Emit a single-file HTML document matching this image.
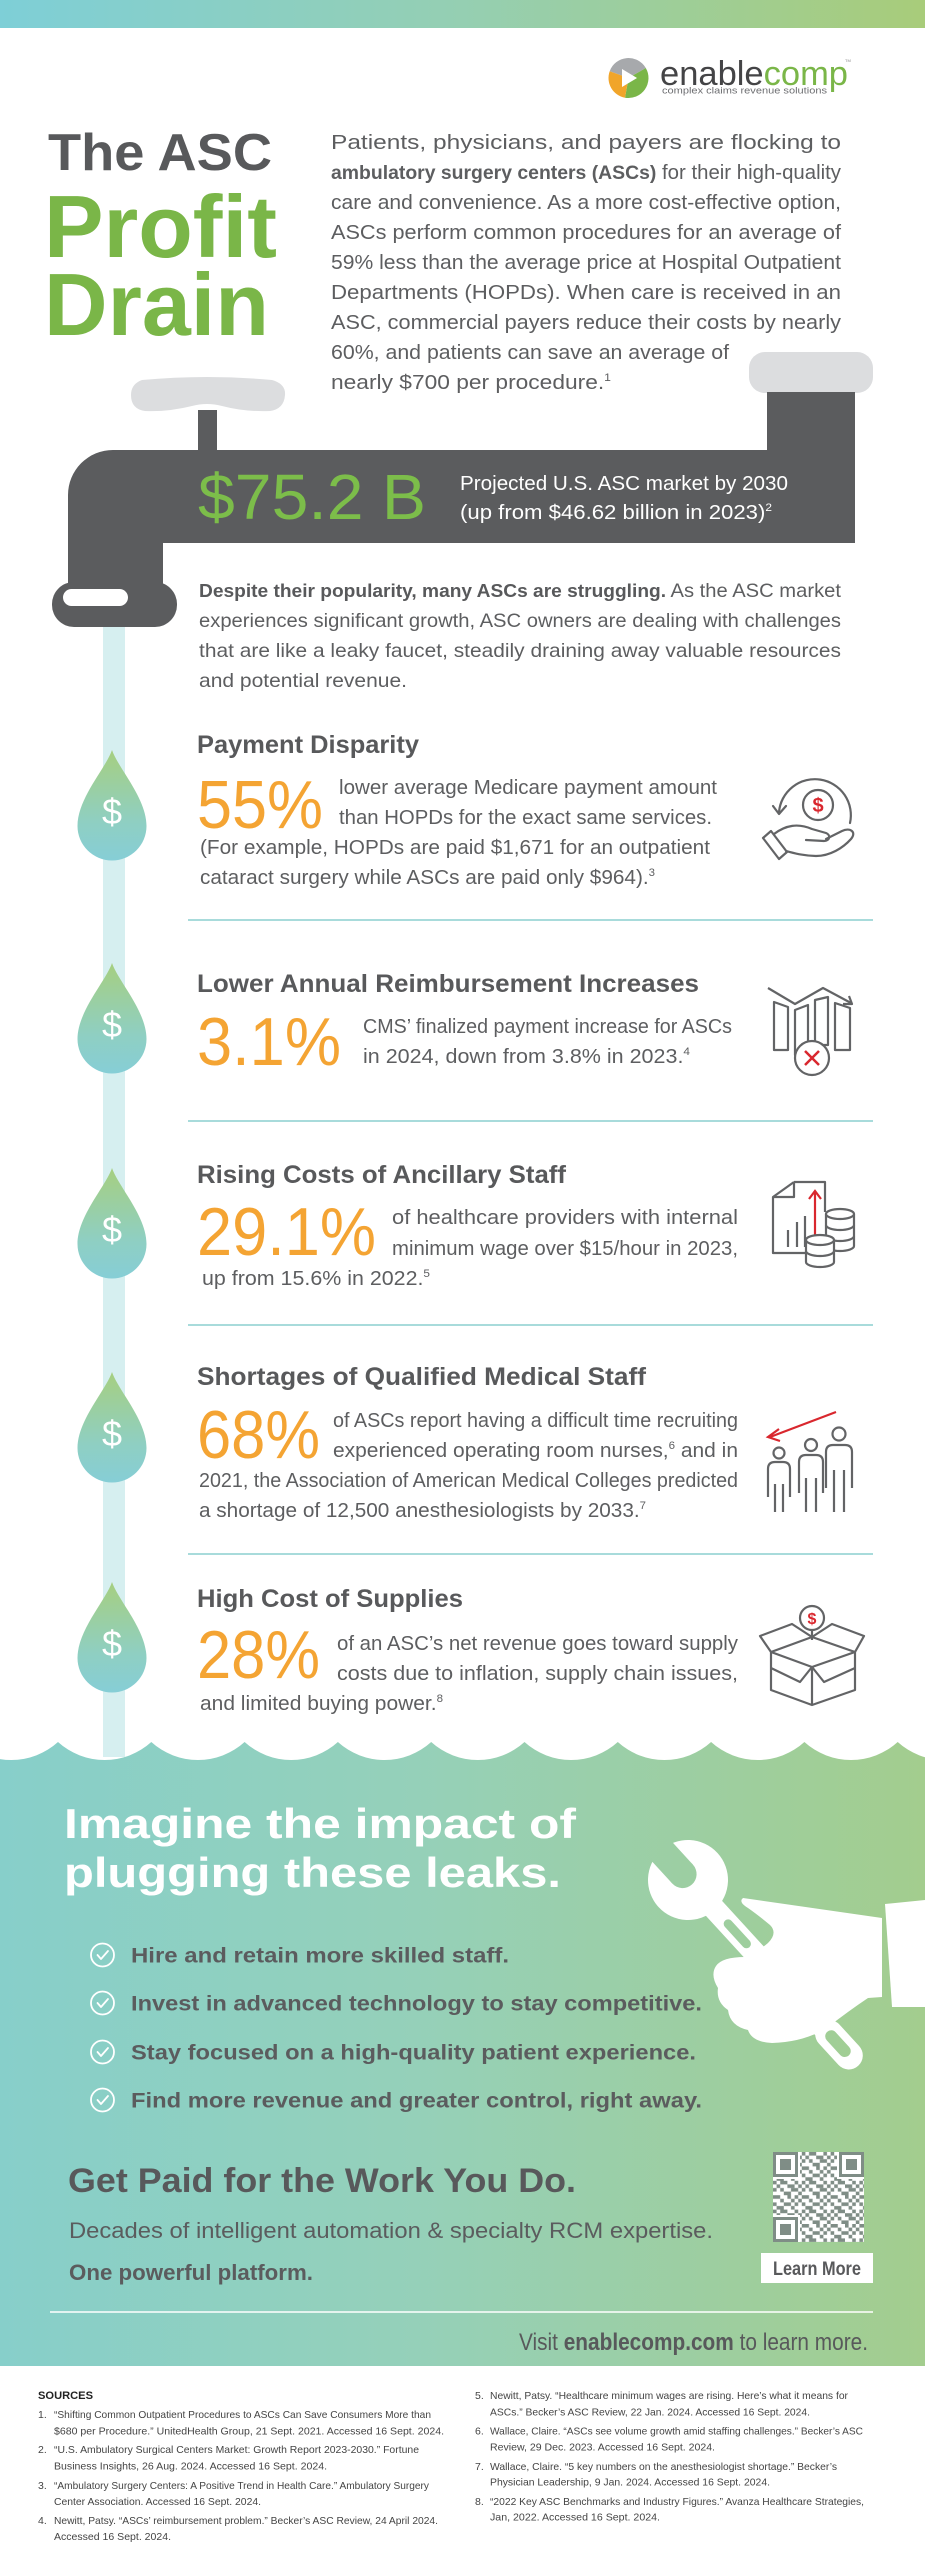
<!DOCTYPE html>
<html><head><meta charset="utf-8">
<style>html,body{margin:0;padding:0;background:#fff;width:925px;height:2560px;overflow:hidden}svg{display:block}</style>
</head><body>
<svg width="925" height="2560" viewBox="0 0 925 2560" xmlns="http://www.w3.org/2000/svg" font-family="'Liberation Sans', Arial, sans-serif">
<defs>
 <linearGradient id="gTop" x1="0" y1="0" x2="1" y2="0"><stop offset="0" stop-color="#7ecfd7"/><stop offset="0.5" stop-color="#95cfb2"/><stop offset="1" stop-color="#a8cc7a"/></linearGradient>
 <linearGradient id="gGreen" x1="0" y1="0" x2="1" y2="0"><stop offset="0" stop-color="#87cfca"/><stop offset="0.45" stop-color="#95d0b9"/><stop offset="1" stop-color="#a3cd8e"/></linearGradient>
 <linearGradient id="gDrop" x1="0" y1="0" x2="0" y2="1"><stop offset="0" stop-color="#a6cf80"/><stop offset="0.65" stop-color="#8fcfc2"/><stop offset="1" stop-color="#86ced6"/></linearGradient>
 <pattern id="qr" x="773" y="2152" width="28.8" height="28.8" patternUnits="userSpaceOnUse">
  <rect width="28.8" height="28.8" fill="#fff"/>
  <g fill="#7f8d86">
   <rect x="0" y="0" width="3.6" height="3.6"/><rect x="7.2" y="0" width="7.2" height="3.6"/><rect x="21.6" y="0" width="3.6" height="3.6"/>
   <rect x="3.6" y="3.6" width="3.6" height="3.6"/><rect x="14.4" y="3.6" width="7.2" height="3.6"/><rect x="25.2" y="3.6" width="3.6" height="3.6"/>
   <rect x="0" y="7.2" width="3.6" height="3.6"/><rect x="7.2" y="7.2" width="3.6" height="3.6"/><rect x="18" y="7.2" width="7.2" height="3.6"/>
   <rect x="10.8" y="10.8" width="7.2" height="3.6"/><rect x="25.2" y="10.8" width="3.6" height="3.6"/>
   <rect x="0" y="14.4" width="7.2" height="3.6"/><rect x="14.4" y="14.4" width="3.6" height="3.6"/><rect x="21.6" y="14.4" width="3.6" height="3.6"/>
   <rect x="7.2" y="18" width="3.6" height="3.6"/><rect x="18" y="18" width="3.6" height="3.6"/><rect x="25.2" y="18" width="3.6" height="3.6"/>
   <rect x="0" y="21.6" width="3.6" height="3.6"/><rect x="10.8" y="21.6" width="7.2" height="3.6"/><rect x="21.6" y="21.6" width="3.6" height="3.6"/>
   <rect x="3.6" y="25.2" width="7.2" height="3.6"/><rect x="18" y="25.2" width="3.6" height="3.6"/>
  </g>
 </pattern>
 <mask id="wm" maskUnits="userSpaceOnUse" x="-100" y="-100" width="500" height="200">
  <rect x="-100" y="-100" width="500" height="200" fill="#fff"/>
  <rect x="-60" y="-14" width="52" height="28" fill="#000"/>
  <circle cx="-8" cy="0" r="14" fill="#000"/>
  <rect x="55" y="-4.5" width="36" height="9" rx="4.5" fill="#000"/>
  <rect x="206" y="-6" width="32" height="12" rx="6" fill="#000"/>
 </mask>
</defs>

<!-- top bar -->
<rect x="0" y="0" width="925" height="28" fill="url(#gTop)"/>

<!-- green section + waves (drawn early so text sits above) -->
<rect x="0" y="1738" width="925" height="628" fill="url(#gGreen)"/>
<path d="M-36 1725 L-35.3 1742 A69.4 69.4 0 0 0 58 1742 A69.4 69.4 0 0 0 151.3 1742 A69.4 69.4 0 0 0 244.6 1742 A69.4 69.4 0 0 0 337.9 1742 A69.4 69.4 0 0 0 431.2 1742 A69.4 69.4 0 0 0 524.5 1742 A69.4 69.4 0 0 0 617.8 1742 A69.4 69.4 0 0 0 711.1 1742 A69.4 69.4 0 0 0 804.4 1742 A69.4 69.4 0 0 0 897.7 1742 A69.4 69.4 0 0 0 991 1742 L991 1725 Z" fill="#fff"/>

<!-- logo -->
<path d="M628.5 78 L609.7 71.2 A20 20 0 0 1 645.8 68 Z" fill="#a7a9ac"/>
<path d="M628.5 78 L645.8 68 A20 20 0 0 1 625 97.7 Z" fill="#7ab648"/>
<path d="M628.5 78 L625 97.7 A20 20 0 0 1 609.7 71.2 Z" fill="#f1a52a"/>
<polygon points="622,69 622,87 637,78" fill="#fff"/>
<text x="660" y="85" font-size="34" textLength="188" lengthAdjust="spacingAndGlyphs"><tspan fill="#444446">enable</tspan><tspan fill="#7ab648">comp</tspan></text>
<text x="845" y="62" font-size="4" fill="#888">TM</text>
<text x="662" y="93.5" font-size="9.5" fill="#6d6e71" textLength="165" lengthAdjust="spacingAndGlyphs">complex claims revenue solutions</text>

<!-- title -->
<text x="48" y="170" font-size="52" font-weight="bold" fill="#58595b" textLength="224" lengthAdjust="spacingAndGlyphs">The ASC</text>
<text x="44" y="257" font-size="88" font-weight="bold" fill="#7ab648" textLength="233" lengthAdjust="spacingAndGlyphs">Profit</text>
<text x="44" y="335" font-size="88" font-weight="bold" fill="#7ab648" textLength="225" lengthAdjust="spacingAndGlyphs">Drain</text>

<!-- intro -->
<g font-size="20.5" fill="#5d5e60">
<text x="331" y="149" textLength="510" lengthAdjust="spacingAndGlyphs">Patients, physicians, and payers are flocking to</text>
<text x="331" y="179" textLength="510" lengthAdjust="spacingAndGlyphs"><tspan font-weight="bold" font-size="19.5">ambulatory surgery centers (ASCs)</tspan> for their high-quality</text>
<text x="331" y="209" textLength="510" lengthAdjust="spacingAndGlyphs">care and convenience. As a more cost-effective option,</text>
<text x="331" y="239" textLength="510" lengthAdjust="spacingAndGlyphs">ASCs perform common procedures for an average of</text>
<text x="331" y="269" textLength="510" lengthAdjust="spacingAndGlyphs">59% less than the average price at Hospital Outpatient</text>
<text x="331" y="299" textLength="510" lengthAdjust="spacingAndGlyphs">Departments (HOPDs). When care is received in an</text>
<text x="331" y="329" textLength="510" lengthAdjust="spacingAndGlyphs">ASC, commercial payers reduce their costs by nearly</text>
<text x="331" y="359" textLength="398" lengthAdjust="spacingAndGlyphs">60%, and patients can save an average of</text>
<text x="331" y="389" textLength="280" lengthAdjust="spacingAndGlyphs">nearly $700 per procedure.<tspan font-size="11" dy="-8">1</tspan></text>
</g>

<!-- faucet -->
<path d="M142 380 Q207 374 272 380 Q286 384 285 395 Q284 409 270 411 Q245 412 222 406 Q207 402 192 406 Q168 412 145 411 Q131 409 131 395 Q131 384 142 380 Z" fill="#dcdddf"/>
<rect x="198" y="410" width="19" height="42" fill="#5b5c5e"/>
<rect x="749" y="352" width="124" height="41" rx="16" fill="#dcdddf"/>
<rect x="767" y="392" width="88" height="70" fill="#5b5c5e"/>
<path d="M68 495 A45 45 0 0 1 113 450 L855 450 L855 543 L163 543 L163 600 L68 600 Z" fill="#5b5c5e"/>
<rect x="52" y="582" width="125" height="45" rx="22" fill="#5b5c5e"/>
<rect x="63" y="589" width="65" height="17" rx="8.5" fill="#fff"/>
<text x="198" y="519" font-size="64" fill="#7cbd4a" textLength="228" lengthAdjust="spacingAndGlyphs">$75.2 B</text>
<text x="460" y="490" font-size="20.5" fill="#fff" textLength="328" lengthAdjust="spacingAndGlyphs">Projected U.S. ASC market by 2030</text>
<text x="460" y="519" font-size="20.5" fill="#fff" textLength="312" lengthAdjust="spacingAndGlyphs">(up from $46.62 billion in 2023)<tspan font-size="11" dy="-8">2</tspan></text>

<!-- despite paragraph -->
<g font-size="19.5" fill="#5d5e60">
<text x="199" y="597" textLength="642" lengthAdjust="spacingAndGlyphs"><tspan font-weight="bold" font-size="18.5" fill="#58595b">Despite their popularity, many ASCs are struggling.</tspan> As the ASC market</text>
<text x="199" y="627" textLength="642" lengthAdjust="spacingAndGlyphs">experiences significant growth, ASC owners are dealing with challenges</text>
<text x="199" y="657" textLength="642" lengthAdjust="spacingAndGlyphs">that are like a leaky faucet, steadily draining away valuable resources</text>
<text x="199" y="687" textLength="208" lengthAdjust="spacingAndGlyphs">and potential revenue.</text>
</g>

<!-- stream -->
<rect x="103" y="627" width="22" height="1130" fill="#d6eff0"/>

<!-- drops -->
<g fill="url(#gDrop)">
<path d="M112 750 C118 768 146.5 798 146.5 826 A34.5 34.5 0 0 1 77.5 826 C77.5 798 106 768 112 750 Z"/>
<path d="M112 963 C118 981 146.5 1011 146.5 1039 A34.5 34.5 0 0 1 77.5 1039 C77.5 1011 106 981 112 963 Z"/>
<path d="M112 1168 C118 1186 146.5 1216 146.5 1244 A34.5 34.5 0 0 1 77.5 1244 C77.5 1216 106 1186 112 1168 Z"/>
<path d="M112 1372 C118 1390 146.5 1420 146.5 1448 A34.5 34.5 0 0 1 77.5 1448 C77.5 1420 106 1390 112 1372 Z"/>
<path d="M112 1582 C118 1600 146.5 1630 146.5 1658 A34.5 34.5 0 0 1 77.5 1658 C77.5 1630 106 1600 112 1582 Z"/>
</g>
<g font-size="36" fill="#fff" text-anchor="middle">
<text x="112" y="824">$</text>
<text x="112" y="1037">$</text>
<text x="112" y="1242">$</text>
<text x="112" y="1446">$</text>
<text x="112" y="1656">$</text>
</g>

<!-- dividers -->
<g stroke="#a8dbdb" stroke-width="2">
<line x1="188" y1="920" x2="873" y2="920"/>
<line x1="188" y1="1121" x2="873" y2="1121"/>
<line x1="188" y1="1325" x2="873" y2="1325"/>
<line x1="188" y1="1554" x2="873" y2="1554"/>
</g>

<!-- headings -->
<g font-size="25" font-weight="bold" fill="#58595b">
<text x="197" y="753" textLength="222" lengthAdjust="spacingAndGlyphs">Payment Disparity</text>
<text x="197" y="992" textLength="502" lengthAdjust="spacingAndGlyphs">Lower Annual Reimbursement Increases</text>
<text x="197" y="1183" textLength="369" lengthAdjust="spacingAndGlyphs">Rising Costs of Ancillary Staff</text>
<text x="197" y="1385" textLength="449" lengthAdjust="spacingAndGlyphs">Shortages of Qualified Medical Staff</text>
<text x="197" y="1607" textLength="266" lengthAdjust="spacingAndGlyphs">High Cost of Supplies</text>
</g>

<!-- big numbers -->
<g font-size="68" fill="#f4a433">
<text x="197" y="828" textLength="126" lengthAdjust="spacingAndGlyphs">55%</text>
<text x="197" y="1065" textLength="144" lengthAdjust="spacingAndGlyphs">3.1%</text>
<text x="197" y="1255" textLength="179" lengthAdjust="spacingAndGlyphs">29.1%</text>
<text x="197" y="1458" textLength="123" lengthAdjust="spacingAndGlyphs">68%</text>
<text x="197" y="1678" textLength="123" lengthAdjust="spacingAndGlyphs">28%</text>
</g>

<!-- section texts -->
<g font-size="20" fill="#5d5e60">
<text x="339" y="794" textLength="378" lengthAdjust="spacingAndGlyphs">lower average Medicare payment amount</text>
<text x="339" y="824" textLength="373" lengthAdjust="spacingAndGlyphs">than HOPDs for the exact same services.</text>
<text x="200" y="854" textLength="510" lengthAdjust="spacingAndGlyphs">(For example, HOPDs are paid $1,671 for an outpatient</text>
<text x="200" y="884" textLength="455" lengthAdjust="spacingAndGlyphs">cataract surgery while ASCs are paid only $964).<tspan font-size="11" dy="-8">3</tspan></text>

<text x="363" y="1033" textLength="369" lengthAdjust="spacingAndGlyphs">CMS’ finalized payment increase for ASCs</text>
<text x="363" y="1063" textLength="327" lengthAdjust="spacingAndGlyphs">in 2024, down from 3.8% in 2023.<tspan font-size="11" dy="-8">4</tspan></text>

<text x="392" y="1224" textLength="346" lengthAdjust="spacingAndGlyphs">of healthcare providers with internal</text>
<text x="392" y="1255" textLength="346" lengthAdjust="spacingAndGlyphs">minimum wage over $15/hour in 2023,</text>
<text x="202" y="1285" textLength="228" lengthAdjust="spacingAndGlyphs">up from 15.6% in 2022.<tspan font-size="11" dy="-8">5</tspan></text>

<text x="333" y="1427" textLength="405" lengthAdjust="spacingAndGlyphs">of ASCs report having a difficult time recruiting</text>
<text x="333" y="1457" textLength="405" lengthAdjust="spacingAndGlyphs">experienced operating room nurses,<tspan font-size="11" dy="-8">6</tspan><tspan dy="8"> and in</tspan></text>
<text x="199" y="1487" textLength="539" lengthAdjust="spacingAndGlyphs">2021, the Association of American Medical Colleges predicted</text>
<text x="199" y="1517" textLength="447" lengthAdjust="spacingAndGlyphs">a shortage of 12,500 anesthesiologists by 2033.<tspan font-size="11" dy="-8">7</tspan></text>

<text x="337" y="1650" textLength="401" lengthAdjust="spacingAndGlyphs">of an ASC’s net revenue goes toward supply</text>
<text x="337" y="1680" textLength="401" lengthAdjust="spacingAndGlyphs">costs due to inflation, supply chain issues,</text>
<text x="200" y="1710" textLength="243" lengthAdjust="spacingAndGlyphs">and limited buying power.<tspan font-size="11" dy="-8">8</tspan></text>
</g>

<!-- icon 1: hand & coin -->
<g fill="none" stroke="#636466" stroke-width="2.2" stroke-linecap="round" stroke-linejoin="round">
 <path d="M779 812 A36 36 0 1 1 850 823"/>
 <path d="M773 806 L779 814 L786 806"/>
 <circle cx="818" cy="805" r="15"/>
 <path d="M763 838 L771 831 L787 852 L779 859 Z"/>
 <path d="M774 834 C786 825 798 823 812 829 L826 833 C831 835 830 841 824 841 L806 840"/>
 <path d="M826 839 L842 831 C850 827 857 832 851 839 C843 848 830 856 816 856 C804 856 794 853 786 851"/>
</g>
<text x="818" y="812" font-size="20" font-weight="bold" fill="#d9272e" text-anchor="middle">$</text>

<!-- icon 2: bars & X -->
<g fill="none" stroke="#636466" stroke-width="2.2" stroke-linejoin="round">
 <polyline points="768,988 795,1004 823,988 851,1003"/>
 <path d="M843 1004 L852 1004 L849 996"/>
 <path d="M774 1002 L788 1007 L788 1050 L774 1050 Z"/>
 <path d="M795 1010 L808 1005 L808 1055 L795 1055 Z"/>
 <path d="M815 1000 L828 997 L828 1045 L815 1045 Z"/>
 <path d="M835 1003 L850 1008 L850 1050 L835 1050 Z"/>
 <circle cx="812" cy="1058" r="17" fill="#fff"/>
</g>
<path d="M805 1051 L819 1065 M819 1051 L805 1065" stroke="#d9272e" stroke-width="2.5" fill="none"/>

<!-- icon 3: doc & coins -->
<g fill="none" stroke="#636466" stroke-width="2.2" stroke-linejoin="round">
 <path d="M794 1182 L825 1182 L825 1212"/>
 <path d="M794 1182 L773 1197 L773 1253 L805 1253"/>
 <path d="M794 1182 L794 1197 L773 1197"/>
 <path d="M788 1247 V1230 M797 1247 V1222 M805 1247 V1216"/>
</g>
<path d="M815 1250 V1192 M809 1199 L815 1191 L821 1199" stroke="#d9272e" stroke-width="2.2" fill="none"/>
<g stroke="#636466" stroke-width="2.2" stroke-linejoin="round">
 <path d="M826 1214 V1246 A14 5 0 0 0 854 1246 V1214 Z" fill="#fff"/>
 <ellipse cx="840" cy="1214" rx="14" ry="5" fill="#fff"/>
 <path d="M826 1225 A14 5 0 0 0 854 1225 M826 1236 A14 5 0 0 0 854 1236" fill="none"/>
 <path d="M806 1240 V1262 A14 5 0 0 0 834 1262 V1240 Z" fill="#fff"/>
 <ellipse cx="820" cy="1240" rx="14" ry="5" fill="#fff"/>
 <path d="M806 1251 A14 5 0 0 0 834 1251" fill="none"/>
</g>

<!-- icon 4: people -->
<path d="M836 1412 L770 1437 M779 1429 L768 1437 L780 1441" stroke="#d9272e" stroke-width="2.2" fill="none"/>
<g stroke="#636466" stroke-width="2.2" fill="#fff" stroke-linejoin="round">
 <circle cx="839" cy="1434" r="6.5"/>
 <path d="M826 1488 L826 1452 Q826 1445 833 1445 L845 1445 Q852 1445 852 1452 L852 1488"/>
 <path d="M834 1470 V1512 M844 1470 V1512" fill="none"/>
 <circle cx="811" cy="1445" r="6"/>
 <path d="M799 1493 L799 1462 Q799 1455 806 1455 L816 1455 Q823 1455 823 1462 L823 1493"/>
 <path d="M806 1478 V1512 M816 1478 V1512" fill="none"/>
 <circle cx="779" cy="1453" r="5.5"/>
 <path d="M768 1497 L768 1469 Q768 1462 775 1462 L783 1462 Q790 1462 790 1469 L790 1497"/>
 <path d="M775 1484 V1512 M783 1484 V1512" fill="none"/>
</g>

<!-- icon 5: box -->
<g stroke="#636466" stroke-width="2.2" fill="none" stroke-linejoin="round">
 <path d="M771 1652 L812 1637 L855 1652"/>
 <path d="M771 1652 L812 1667 L855 1652"/>
 <path d="M771 1652 L771 1690 L812 1705 L855 1690 L855 1652"/>
 <path d="M812 1667 V1705"/>
 <path d="M771 1652 L760 1636 L792 1624 L812 1637"/>
 <path d="M855 1652 L864 1636 L832 1624 L812 1637"/>
 <path d="M812 1667 L800 1682 L771 1668"/>
 <path d="M812 1667 L824 1682 L855 1668"/>
 <path d="M812 1630 V1640"/>
 <circle cx="812" cy="1618" r="12" fill="#fff"/>
</g>
<text x="812" y="1624" font-size="16" font-weight="bold" fill="#d9272e" text-anchor="middle">$</text>

<!-- wrench & hand -->
<g transform="translate(688,1880) rotate(47.5)">
 <g mask="url(#wm)" fill="#fff">
  <circle cx="0" cy="0" r="40"/>
  <rect x="0" y="-11" width="240" height="22" rx="11"/>
  <rect x="195" y="-14" width="57" height="28" rx="14"/>
 </g>
</g>
<path d="M743 1898 L882 1918 L882 1997 L868 1998 Q850 2010 828 2027 Q805 2042 772 2043 Q752 2042 748 2030 Q730 2026 728 2010 Q716 2002 718 1988 Q710 1975 716 1966 Q722 1957 745 1957 Q760 1950 768 1943 Q778 1933 770 1925 Q758 1915 748 1908 Q738 1902 743 1898 Z" fill="#fff"/>
<polygon points="885,1904 925,1900 925,2007 892,2007" fill="#fff"/>

<text x="64" y="1838" font-size="42" font-weight="bold" fill="#fff" textLength="512" lengthAdjust="spacingAndGlyphs">Imagine the impact of</text>
<text x="64" y="1887" font-size="42" font-weight="bold" fill="#fff" textLength="497" lengthAdjust="spacingAndGlyphs">plugging these leaks.</text>

<g fill="none" stroke="#fff" stroke-width="1.8" stroke-linecap="round" stroke-linejoin="round">
 <circle cx="102.5" cy="1955" r="11.5"/><path d="M97.5 1955 L101 1959 L108 1951"/>
 <circle cx="102.5" cy="2003" r="11.5"/><path d="M97.5 2003 L101 2007 L108 1999"/>
 <circle cx="102.5" cy="2052" r="11.5"/><path d="M97.5 2052 L101 2056 L108 2048"/>
 <circle cx="102.5" cy="2100" r="11.5"/><path d="M97.5 2100 L101 2104 L108 2096"/>
</g>
<g font-size="21" font-weight="bold" fill="#5b5c5e">
<text x="131" y="1962.5" textLength="378" lengthAdjust="spacingAndGlyphs">Hire and retain more skilled staff.</text>
<text x="131" y="2010.5" textLength="571" lengthAdjust="spacingAndGlyphs">Invest in advanced technology to stay competitive.</text>
<text x="131" y="2059.5" textLength="565" lengthAdjust="spacingAndGlyphs">Stay focused on a high-quality patient experience.</text>
<text x="131" y="2107.5" textLength="571" lengthAdjust="spacingAndGlyphs">Find more revenue and greater control, right away.</text>
</g>

<text x="68" y="2192" font-size="34" font-weight="bold" fill="#58595b" textLength="508" lengthAdjust="spacingAndGlyphs">Get Paid for the Work You Do.</text>
<text x="69" y="2238" font-size="22.5" fill="#5b5c5e" textLength="644" lengthAdjust="spacingAndGlyphs">Decades of intelligent automation &amp; specialty RCM expertise.</text>
<text x="69" y="2280" font-size="22" font-weight="bold" fill="#5b5c5e" textLength="244" lengthAdjust="spacingAndGlyphs">One powerful platform.</text>

<!-- QR -->
<rect x="773" y="2152" width="91" height="90" fill="url(#qr)"/>
<g>
 <rect x="773" y="2152" width="27" height="27" fill="#fff"/><rect x="774.5" y="2153.5" width="22" height="22" fill="none" stroke="#7f8d86" stroke-width="3"/><rect x="780" y="2159" width="11" height="11" fill="#7f8d86"/>
 <rect x="837" y="2152" width="27" height="27" fill="#fff"/><rect x="840.5" y="2153.5" width="22" height="22" fill="none" stroke="#7f8d86" stroke-width="3"/><rect x="846" y="2159" width="11" height="11" fill="#7f8d86"/>
 <rect x="773" y="2215" width="27" height="27" fill="#fff"/><rect x="774.5" y="2218.5" width="22" height="22" fill="none" stroke="#7f8d86" stroke-width="3"/><rect x="780" y="2224" width="11" height="11" fill="#7f8d86"/>
</g>
<rect x="761" y="2253" width="112" height="30" fill="#fff"/>
<text x="773" y="2275" font-size="19" font-weight="bold" fill="#58595b" textLength="88" lengthAdjust="spacingAndGlyphs">Learn More</text>

<line x1="50" y1="2312" x2="873" y2="2312" stroke="#fff" stroke-width="1.6"/>
<text x="519" y="2350" font-size="24" fill="#58595b" textLength="349" lengthAdjust="spacingAndGlyphs">Visit <tspan font-weight="bold">enablecomp.com</tspan> to learn more.</text>

<!-- sources -->
<text x="38" y="2399" font-size="11" font-weight="bold" fill="#222" textLength="55" lengthAdjust="spacingAndGlyphs">SOURCES</text>
<g font-size="10.5" fill="#444">
<text x="38" y="2418">1.</text>
<text x="54" y="2418" textLength="377" lengthAdjust="spacingAndGlyphs">“Shifting Common Outpatient Procedures to ASCs Can Save Consumers More than</text>
<text x="54" y="2434.5" textLength="390" lengthAdjust="spacingAndGlyphs">$680 per Procedure.” UnitedHealth Group, 21 Sept. 2021. Accessed 16 Sept. 2024.</text>
<text x="38" y="2453">2.</text>
<text x="54" y="2453" textLength="365" lengthAdjust="spacingAndGlyphs">“U.S. Ambulatory Surgical Centers Market: Growth Report 2023-2030.” Fortune</text>
<text x="54" y="2469.5" textLength="273" lengthAdjust="spacingAndGlyphs">Business Insights, 26 Aug. 2024. Accessed 16 Sept. 2024.</text>
<text x="38" y="2489">3.</text>
<text x="54" y="2489" textLength="375" lengthAdjust="spacingAndGlyphs">“Ambulatory Surgery Centers: A Positive Trend in Health Care.” Ambulatory Surgery</text>
<text x="54" y="2505" textLength="207" lengthAdjust="spacingAndGlyphs">Center Association. Accessed 16 Sept. 2024.</text>
<text x="38" y="2524">4.</text>
<text x="54" y="2524" textLength="384" lengthAdjust="spacingAndGlyphs">Newitt, Patsy. “ASCs’ reimbursement problem.” Becker’s ASC Review, 24 April 2024.</text>
<text x="54" y="2540" textLength="117" lengthAdjust="spacingAndGlyphs">Accessed 16 Sept. 2024.</text>

<text x="475" y="2399">5.</text>
<text x="490" y="2399" textLength="358" lengthAdjust="spacingAndGlyphs">Newitt, Patsy. “Healthcare minimum wages are rising. Here’s what it means for</text>
<text x="490" y="2415.5" textLength="320" lengthAdjust="spacingAndGlyphs">ASCs.” Becker’s ASC Review, 22 Jan. 2024. Accessed 16 Sept. 2024.</text>
<text x="475" y="2434.5">6.</text>
<text x="490" y="2434.5" textLength="373" lengthAdjust="spacingAndGlyphs">Wallace, Claire. “ASCs see volume growth amid staffing challenges.” Becker’s ASC</text>
<text x="490" y="2450.5" textLength="225" lengthAdjust="spacingAndGlyphs">Review, 29 Dec. 2023. Accessed 16 Sept. 2024.</text>
<text x="475" y="2470">7.</text>
<text x="490" y="2470" textLength="347" lengthAdjust="spacingAndGlyphs">Wallace, Claire. “5 key numbers on the anesthesiologist shortage.” Becker’s</text>
<text x="490" y="2485.5" textLength="280" lengthAdjust="spacingAndGlyphs">Physician Leadership, 9 Jan. 2024. Accessed 16 Sept. 2024.</text>
<text x="475" y="2505">8.</text>
<text x="490" y="2505" textLength="374" lengthAdjust="spacingAndGlyphs">“2022 Key ASC Benchmarks and Industry Figures.” Avanza Healthcare Strategies,</text>
<text x="490" y="2520.5" textLength="170" lengthAdjust="spacingAndGlyphs">Jan, 2022. Accessed 16 Sept. 2024.</text>
</g>
</svg>
</body></html>
